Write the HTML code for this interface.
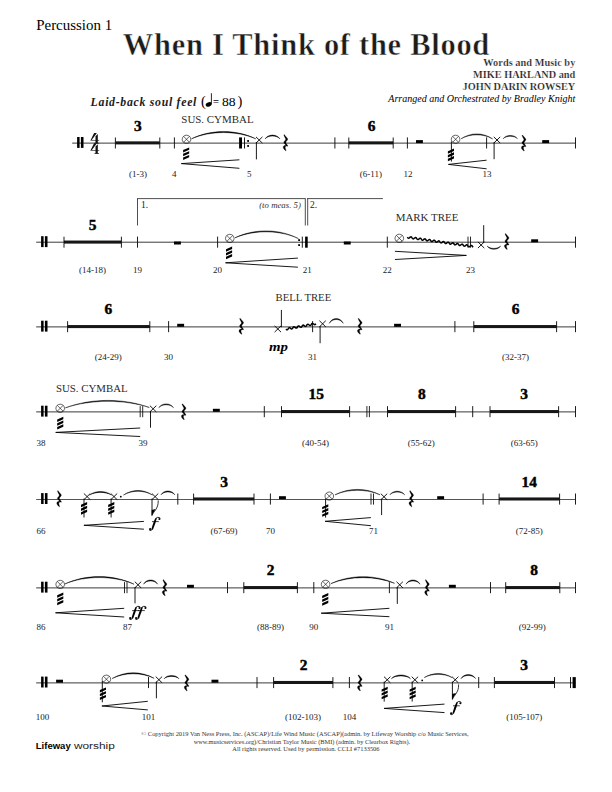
<!DOCTYPE html>
<html><head><meta charset="utf-8"><title>When I Think of the Blood - Percussion 1</title>
<style>
html,body{margin:0;padding:0;background:#fff;}
body{width:612px;height:792px;overflow:hidden;font-family:"Liberation Serif",serif;}
svg{display:block;}
</style></head><body>
<svg width="612" height="792" viewBox="0 0 612 792">
<rect width="612" height="792" fill="#fff"/>
<text x="36.2" y="30.1" font-family="Liberation Serif" font-size="15" font-weight="normal" font-style="normal" text-anchor="start" fill="#000" textLength="76" lengthAdjust="spacingAndGlyphs">Percussion 1</text>
<text x="122.8" y="54.9" font-family="Liberation Serif" font-size="30.5" font-weight="bold" font-style="normal" text-anchor="start" fill="#1c1c1c" textLength="366.5" lengthAdjust="spacing" stroke="#fff" stroke-width="0.5">When I Think of the Blood</text>
<text x="575.3" y="66.2" font-family="Liberation Serif" font-size="10.3" font-weight="bold" font-style="normal" text-anchor="end" fill="#1c1c1c" textLength="92" lengthAdjust="spacing" stroke="#fff" stroke-width="0.2">Words and Music by</text>
<text x="575.3" y="77.9" font-family="Liberation Serif" font-size="10.3" font-weight="bold" font-style="normal" text-anchor="end" fill="#1c1c1c" textLength="102.2" lengthAdjust="spacing" stroke="#fff" stroke-width="0.2">MIKE HARLAND and</text>
<text x="575.3" y="89.7" font-family="Liberation Serif" font-size="10.3" font-weight="bold" font-style="normal" text-anchor="end" fill="#1c1c1c" textLength="112.7" lengthAdjust="spacing" stroke="#fff" stroke-width="0.2">JOHN DARIN ROWSEY</text>
<text x="575.3" y="101.8" font-family="Liberation Serif" font-size="10.4" font-weight="normal" font-style="italic" text-anchor="end" fill="#000" textLength="187" lengthAdjust="spacingAndGlyphs">Arranged and Orchestrated by Bradley Knight</text>
<text x="90.6" y="105.6" font-family="Liberation Serif" font-size="11.8" font-weight="bold" font-style="italic" text-anchor="start" fill="#1c1c1c" textLength="105.8" lengthAdjust="spacing">Laid-back soul feel</text>
<text x="200.9" y="106.3" font-family="Liberation Serif" font-size="14.5" font-weight="normal" font-style="normal" text-anchor="start" fill="#000">(</text>
<ellipse cx="208.7" cy="104.4" rx="3.1" ry="2.15" transform="rotate(-22 208.7 104.4)" fill="#000"/>
<line x1="211.4" y1="103.8" x2="211.4" y2="93.2" stroke="#000" stroke-width="0.85"/>
<text x="212.9" y="106.2" font-family="Liberation Serif" font-size="12" font-weight="normal" font-style="normal" text-anchor="start" fill="#000" textLength="6" lengthAdjust="spacingAndGlyphs">=</text>
<text x="221.9" y="106.4" font-family="Liberation Serif" font-size="13.2" font-weight="normal" font-style="normal" text-anchor="start" fill="#000" textLength="13.6" lengthAdjust="spacingAndGlyphs">88</text>
<text x="237.6" y="106.3" font-family="Liberation Serif" font-size="14.5" font-weight="normal" font-style="normal" text-anchor="start" fill="#000">)</text>
<line x1="72.2" y1="143.12" x2="575.5" y2="143.12" stroke="#3a3a3a" stroke-width="1.0"/>
<rect x="77.1" y="137" width="2.5" height="10.9" fill="#000"/>
<rect x="80.9" y="137" width="2.6" height="10.9" fill="#000"/>
<path d="M94.1,133 L96.9,133 L91.7,140 L90.7,139.9 Z" fill="#111"/>
<rect x="90.5" y="139.95" width="8.7" height="0.65" fill="#222"/>
<path d="M95.5,136.3 L97.8,134 L97.8,143.2 L95.5,143.2 Z" fill="#111"/>
<path d="M94.1,143.5 L99.3,143.5 L98.6,142.7 L94.8,142.7 Z" fill="#111"/>
<path d="M94.1,143.2 L96.9,143.2 L91.7,150.2 L90.7,150.1 Z" fill="#111"/>
<rect x="90.5" y="150.15" width="8.7" height="0.65" fill="#222"/>
<path d="M95.5,146.5 L97.8,144.2 L97.8,153.4 L95.5,153.4 Z" fill="#111"/>
<path d="M94.1,153.7 L99.3,153.7 L98.6,152.9 L94.8,152.9 Z" fill="#111"/>
<rect x="115.4" y="141.35" width="44.4" height="3.05" fill="#161616"/>
<line x1="115.4" y1="137.5" x2="115.4" y2="148.5" stroke="#111" stroke-width="0.95"/>
<line x1="159.8" y1="137.5" x2="159.8" y2="148.5" stroke="#111" stroke-width="0.95"/>
<text x="137.9" y="130.7" font-family="Liberation Serif" font-size="15.4" font-weight="bold" font-style="normal" text-anchor="middle" fill="#000" stroke="#000" stroke-width="0.45">3</text>
<text x="137.9" y="177.2" font-family="Liberation Serif" font-size="9" font-weight="normal" font-style="normal" text-anchor="middle" fill="#222">(1-3)</text>
<line x1="174.4" y1="137.4" x2="174.4" y2="148.5" stroke="#111" stroke-width="0.95"/>
<text x="174.2" y="177.2" font-family="Liberation Serif" font-size="9" font-weight="normal" font-style="normal" text-anchor="middle" fill="#222">4</text>
<text x="181.3" y="122.8" font-family="Liberation Serif" font-size="11.2" font-weight="normal" font-style="normal" text-anchor="start" fill="#2a2a2a" textLength="72.3" lengthAdjust="spacingAndGlyphs">SUS. CYMBAL</text>
<ellipse cx="186.5" cy="139.3" rx="4.3" ry="4.1" fill="none" stroke="#000" stroke-width="0.6"/>
<line x1="183.6" y1="136.4" x2="189.4" y2="142.2" stroke="#000" stroke-width="0.6"/>
<line x1="183.6" y1="142.2" x2="189.4" y2="136.4" stroke="#000" stroke-width="0.6"/>
<path d="M183.1,150.1 L189.2,147.4 L189.2,149.85 L183.1,152.55 Z" fill="#000"/>
<path d="M183.1,153.85 L189.2,151.15 L189.2,153.6 L183.1,156.3 Z" fill="#000"/>
<path d="M183.1,157.6 L189.2,154.9 L189.2,157.35 L183.1,160.05 Z" fill="#000"/>
<path d="M191.5,138.8 C210.76,129.2 236.44,129.2 255.7,138.8 C236.44,130.47 210.76,130.47 191.5,138.8 Z" fill="#000" stroke="#000" stroke-width="0.45" stroke-linejoin="round"/>
<path d="M239.4,159.8 L181.3,163.6 M239.4,168.3 L181.3,163.6" fill="none" stroke="#000" stroke-width="0.9"/>
<rect x="239.1" y="137.4" width="2.9" height="11.1" fill="#000"/>
<line x1="244.5" y1="137.4" x2="244.5" y2="148.5" stroke="#000" stroke-width="0.9"/>
<rect x="247.2" y="140.05" width="1.8" height="1.8" fill="#000"/>
<rect x="247.2" y="145.05" width="1.8" height="1.8" fill="#000"/>
<text x="249.2" y="177.2" font-family="Liberation Serif" font-size="9" font-weight="normal" font-style="normal" text-anchor="middle" fill="#222">5</text>
<line x1="256" y1="136.9" x2="262.4" y2="143.1" stroke="#000" stroke-width="0.9"/>
<line x1="256" y1="143.1" x2="262.4" y2="136.9" stroke="#000" stroke-width="0.9"/>
<line x1="256.4" y1="142" x2="256.4" y2="159.4" stroke="#000" stroke-width="0.9"/>
<path d="M265.1,138.9 C268.06,133.83 276.94,133.83 279.9,138.9 C276.94,135.03 268.06,135.03 265.1,138.9 Z" fill="#000" stroke="#000" stroke-width="0.45" stroke-linejoin="round"/>
<path d="M284.3,134.6 L285.4,135.9 L287.1,137.9 L287.8,139 L287.5,139.9 L286.2,141.5 L285.8,142.3 L286.1,143.2 L287.7,145.6 L287.8,146.2 L286.6,146.1 L285.4,146.5 L285.2,147.6 L285.6,149.2 L286.2,150.5 L285.7,150.7 L284.2,149.4 L283.2,147.8 L283.3,146.4 L284.2,145.6 L285.6,145.3 L286.2,145.4 L284.4,143.6 L283.7,142.6 L284,141.7 L285.5,139.9 L285.7,138.9 L284.6,136.9 L283.8,135.1 Z" fill="#000" stroke="#000" stroke-width="0.25" stroke-linejoin="round"/>
<line x1="334.9" y1="137.4" x2="334.9" y2="148.5" stroke="#111" stroke-width="0.95"/>
<rect x="348.8" y="141.35" width="44.4" height="3.05" fill="#161616"/>
<line x1="348.8" y1="137.5" x2="348.8" y2="148.5" stroke="#111" stroke-width="0.95"/>
<line x1="393.2" y1="137.5" x2="393.2" y2="148.5" stroke="#111" stroke-width="0.95"/>
<text x="371.5" y="130.7" font-family="Liberation Serif" font-size="15.4" font-weight="bold" font-style="normal" text-anchor="middle" fill="#000" stroke="#000" stroke-width="0.45">6</text>
<text x="370.9" y="177.2" font-family="Liberation Serif" font-size="9" font-weight="normal" font-style="normal" text-anchor="middle" fill="#222">(6-11)</text>
<line x1="407.4" y1="137.4" x2="407.4" y2="148.5" stroke="#111" stroke-width="0.95"/>
<text x="407.9" y="177.2" font-family="Liberation Serif" font-size="9" font-weight="normal" font-style="normal" text-anchor="middle" fill="#222">12</text>
<rect x="416" y="140.1" width="6.9" height="3" fill="#000"/>
<ellipse cx="455.6" cy="139.3" rx="4.3" ry="4.1" fill="none" stroke="#000" stroke-width="0.6"/>
<line x1="452.7" y1="136.4" x2="458.5" y2="142.2" stroke="#000" stroke-width="0.6"/>
<line x1="452.7" y1="142.2" x2="458.5" y2="136.4" stroke="#000" stroke-width="0.6"/>
<line x1="451.4" y1="141.5" x2="451.4" y2="161.5" stroke="#000" stroke-width="0.9"/>
<path d="M447.9,151.3 L454,148.6 L454,151.05 L447.9,153.75 Z" fill="#000"/>
<path d="M447.9,155.05 L454,152.35 L454,154.8 L447.9,157.5 Z" fill="#000"/>
<path d="M447.9,158.8 L454,156.1 L454,158.55 L447.9,161.25 Z" fill="#000"/>
<path d="M461.2,138.7 C470.62,132.27 483.18,132.27 492.6,138.9 C483.18,133.53 470.62,133.53 461.2,138.7 Z" fill="#000" stroke="#000" stroke-width="0.45" stroke-linejoin="round"/>
<path d="M486.6,160.2 L448.4,164.4 M486.6,168.8 L448.4,164.4" fill="none" stroke="#000" stroke-width="0.9"/>
<line x1="486.6" y1="137.4" x2="486.6" y2="148.5" stroke="#111" stroke-width="0.95"/>
<text x="487.1" y="177.2" font-family="Liberation Serif" font-size="9" font-weight="normal" font-style="normal" text-anchor="middle" fill="#222">13</text>
<line x1="493.8" y1="136.9" x2="500.2" y2="143.1" stroke="#000" stroke-width="0.9"/>
<line x1="493.8" y1="143.1" x2="500.2" y2="136.9" stroke="#000" stroke-width="0.9"/>
<line x1="494.1" y1="142" x2="494.1" y2="159.2" stroke="#000" stroke-width="0.9"/>
<path d="M503.2,138.7 C506.04,134.3 514.56,134.3 517.4,138.7 C514.56,135.5 506.04,135.5 503.2,138.7 Z" fill="#000" stroke="#000" stroke-width="0.45" stroke-linejoin="round"/>
<path d="M522.5,135 L523.6,136.3 L525.3,138.3 L526,139.4 L525.7,140.3 L524.4,141.9 L524,142.7 L524.3,143.6 L525.9,146 L526,146.6 L524.8,146.5 L523.6,146.9 L523.4,148 L523.8,149.6 L524.4,150.9 L523.9,151.1 L522.4,149.8 L521.4,148.2 L521.5,146.8 L522.4,146 L523.8,145.7 L524.4,145.8 L522.6,144 L521.9,143 L522.2,142.1 L523.7,140.3 L523.9,139.3 L522.8,137.3 L522,135.5 Z" fill="#000" stroke="#000" stroke-width="0.25" stroke-linejoin="round"/>
<rect x="542.2" y="140.1" width="6.9" height="3" fill="#000"/>
<line x1="575.5" y1="137.4" x2="575.5" y2="148.5" stroke="#111" stroke-width="0.95"/>
<line x1="36.2" y1="242.2" x2="575.5" y2="242.2" stroke="#3a3a3a" stroke-width="1.0"/>
<rect x="41.1" y="236.2" width="2.5" height="10.9" fill="#000"/>
<rect x="44.9" y="236.2" width="2.6" height="10.9" fill="#000"/>
<rect x="64" y="240.55" width="57.4" height="3.05" fill="#161616"/>
<line x1="64" y1="236.7" x2="64" y2="247.7" stroke="#111" stroke-width="0.95"/>
<line x1="121.4" y1="236.7" x2="121.4" y2="247.7" stroke="#111" stroke-width="0.95"/>
<text x="92.5" y="229.9" font-family="Liberation Serif" font-size="15.4" font-weight="bold" font-style="normal" text-anchor="middle" fill="#000" stroke="#000" stroke-width="0.45">5</text>
<text x="92.5" y="272.9" font-family="Liberation Serif" font-size="9" font-weight="normal" font-style="normal" text-anchor="middle" fill="#222">(14-18)</text>
<line x1="137.5" y1="236.6" x2="137.5" y2="247.7" stroke="#111" stroke-width="0.95"/>
<text x="137.5" y="272.9" font-family="Liberation Serif" font-size="9" font-weight="normal" font-style="normal" text-anchor="middle" fill="#222">19</text>
<line x1="137.5" y1="198.6" x2="137.5" y2="225.5" stroke="#222" stroke-width="0.8"/>
<line x1="137.1" y1="198.6" x2="305.3" y2="198.6" stroke="#222" stroke-width="0.8"/>
<line x1="305.3" y1="198.2" x2="305.3" y2="225.5" stroke="#222" stroke-width="0.8"/>
<line x1="307.7" y1="198.2" x2="307.7" y2="225.5" stroke="#222" stroke-width="0.8"/>
<line x1="307.3" y1="198.6" x2="382.9" y2="198.6" stroke="#222" stroke-width="0.8"/>
<text x="141" y="208.3" font-family="Liberation Serif" font-size="9.6" font-weight="normal" font-style="normal" text-anchor="start" fill="#222">1.</text>
<text x="310" y="208.3" font-family="Liberation Serif" font-size="9.6" font-weight="normal" font-style="normal" text-anchor="start" fill="#222">2.</text>
<text x="300.9" y="207.6" font-family="Liberation Serif" font-size="8.4" font-weight="normal" font-style="italic" text-anchor="end" fill="#333" textLength="41.7" lengthAdjust="spacingAndGlyphs">(to meas. 5)</text>
<rect x="174" y="241.5" width="6.9" height="3" fill="#000"/>
<line x1="217.6" y1="236.6" x2="217.6" y2="247.7" stroke="#111" stroke-width="0.95"/>
<text x="217.6" y="272.9" font-family="Liberation Serif" font-size="9" font-weight="normal" font-style="normal" text-anchor="middle" fill="#222">20</text>
<ellipse cx="229.8" cy="238.4" rx="4.3" ry="4.1" fill="none" stroke="#000" stroke-width="0.6"/>
<line x1="226.9" y1="235.5" x2="232.7" y2="241.3" stroke="#000" stroke-width="0.6"/>
<line x1="226.9" y1="241.3" x2="232.7" y2="235.5" stroke="#000" stroke-width="0.6"/>
<path d="M226,249.2 L232.1,246.5 L232.1,248.95 L226,251.65 Z" fill="#000"/>
<path d="M226,252.95 L232.1,250.25 L232.1,252.7 L226,255.4 Z" fill="#000"/>
<path d="M226,256.7 L232.1,254 L232.1,256.45 L226,259.15 Z" fill="#000"/>
<path d="M235,237.8 C254.02,228.47 279.38,228.47 298.4,238.6 C279.38,229.73 254.02,229.73 235,237.8 Z" fill="#000" stroke="#000" stroke-width="0.45" stroke-linejoin="round"/>
<path d="M297.9,258.1 L225.5,262.8 M297.9,267.2 L225.5,262.8" fill="none" stroke="#000" stroke-width="0.9"/>
<rect x="298.2" y="239.2" width="1.8" height="1.8" fill="#000"/>
<rect x="298.2" y="244.2" width="1.8" height="1.8" fill="#000"/>
<line x1="302.3" y1="236.6" x2="302.3" y2="247.7" stroke="#000" stroke-width="0.9"/>
<rect x="305.1" y="236.6" width="2.6" height="11.1" fill="#000"/>
<text x="307.3" y="272.9" font-family="Liberation Serif" font-size="9" font-weight="normal" font-style="normal" text-anchor="middle" fill="#222">21</text>
<rect x="343.8" y="241.5" width="6.9" height="3" fill="#000"/>
<line x1="387.3" y1="236.6" x2="387.3" y2="247.7" stroke="#111" stroke-width="0.95"/>
<text x="387.3" y="272.9" font-family="Liberation Serif" font-size="9" font-weight="normal" font-style="normal" text-anchor="middle" fill="#222">22</text>
<text x="395.7" y="221.3" font-family="Liberation Serif" font-size="11.2" font-weight="normal" font-style="normal" text-anchor="start" fill="#2a2a2a" textLength="62.7" lengthAdjust="spacingAndGlyphs">MARK TREE</text>
<ellipse cx="399.3" cy="238.3" rx="4.3" ry="4.1" fill="none" stroke="#000" stroke-width="0.6"/>
<line x1="396.4" y1="235.4" x2="402.2" y2="241.2" stroke="#000" stroke-width="0.6"/>
<line x1="396.4" y1="241.2" x2="402.2" y2="235.4" stroke="#000" stroke-width="0.6"/>
<path d="M407.4,237.2 L407.61,237.51 L407.82,237.79 L408.04,238.02 L408.28,238.16 L408.52,238.21 L408.78,238.17 L409.05,238.05 L409.33,237.86 L409.62,237.62 L409.91,237.38 L410.19,237.15 L410.47,236.98 L410.74,236.87 L411,236.86 L411.24,236.93 L411.47,237.1 L411.69,237.34 L411.9,237.63 L412.11,237.95 L412.32,238.25 L412.53,238.52 L412.76,238.73 L412.99,238.85 L413.24,238.88 L413.5,238.81 L413.78,238.67 L414.06,238.46 L414.35,238.22 L414.64,237.98 L414.92,237.77 L415.2,237.61 L415.46,237.52 L415.71,237.53 L415.95,237.63 L416.18,237.82 L416.4,238.08 L416.61,238.38 L416.81,238.69 L417.03,238.99 L417.24,239.25 L417.47,239.43 L417.71,239.53 L417.96,239.53 L418.23,239.45 L418.5,239.28 L418.79,239.07 L419.08,238.82 L419.36,238.59 L419.65,238.38 L419.92,238.24 L420.18,238.18 L420.43,238.21 L420.67,238.34 L420.89,238.55 L421.1,238.82 L421.31,239.13 L421.52,239.44 L421.73,239.73 L421.95,239.97 L422.18,240.13 L422.43,240.2 L422.68,240.18 L422.95,240.08 L423.23,239.9 L423.52,239.67 L423.8,239.42 L424.09,239.19 L424.37,239 L424.64,238.88 L424.9,238.84 L425.15,238.9 L425.38,239.05 L425.6,239.28 L425.81,239.56 L426.02,239.87 L426.23,240.19 L426.44,240.46 L426.67,240.68 L426.9,240.82 L427.14,240.87 L427.4,240.83 L427.68,240.7 L427.96,240.51 L428.24,240.27 L428.53,240.03 L428.82,239.8 L429.1,239.63 L429.36,239.53 L429.62,239.52 L429.86,239.6 L430.09,239.77 L430.31,240.01 L430.52,240.31 L430.73,240.62 L430.94,240.93 L431.15,241.19 L431.38,241.39 L431.61,241.51 L431.86,241.53 L432.13,241.47 L432.4,241.32 L432.68,241.11 L432.97,240.87 L433.26,240.63 L433.54,240.42 L433.82,240.26 L434.08,240.18 L434.34,240.19 L434.57,240.3 L434.8,240.49 L435.02,240.75 L435.23,241.05 L435.44,241.37 L435.65,241.67 L435.86,241.92 L436.09,242.1 L436.33,242.19 L436.58,242.19 L436.85,242.1 L437.13,241.93 L437.41,241.71 L437.7,241.47 L437.99,241.23 L438.27,241.03 L438.54,240.89 L438.8,240.84 L439.05,240.88 L439.29,241.01 L439.51,241.22 L439.73,241.49 L439.93,241.8 L440.14,242.11 L440.35,242.4 L440.57,242.64 L440.81,242.8 L441.05,242.86 L441.31,242.84 L441.58,242.73 L441.85,242.55 L442.14,242.32 L442.43,242.07 L442.72,241.84 L443,241.65 L443.27,241.54 L443.52,241.5 L443.77,241.57 L444,241.72 L444.22,241.95 L444.43,242.23 L444.64,242.55 L444.85,242.86 L445.06,243.14 L445.29,243.35 L445.52,243.49 L445.77,243.53 L446.03,243.48 L446.3,243.35 L446.58,243.15 L446.87,242.92 L447.16,242.67 L447.44,242.45 L447.72,242.28 L447.99,242.18 L448.24,242.18 L448.48,242.26 L448.71,242.44 L448.93,242.68 L449.14,242.98 L449.35,243.29 L449.56,243.6 L449.77,243.86 L450,244.06 L450.24,244.17 L450.49,244.19 L450.75,244.12 L451.03,243.97 L451.31,243.76 L451.6,243.52 L451.89,243.28 L452.17,243.07 L452.44,242.91 L452.71,242.84 L452.96,242.85 L453.2,242.96 L453.42,243.16 L453.64,243.42 L453.85,243.73 L454.06,244.04 L454.27,244.34 L454.48,244.59 L454.71,244.76 L454.95,244.85 L455.21,244.85 L455.47,244.75 L455.75,244.58 L456.04,244.36 L456.33,244.12 L456.61,243.88 L456.89,243.68 L457.17,243.55 L457.43,243.5 L457.68,243.54 L457.91,243.67 L458.13,243.89 L458.35,244.16 L458.56,244.47 L458.76,244.79 L458.98,245.07 L459.2,245.31 L459.43,245.46 L459.67,245.52 L459.93,245.49 L460.2,245.38 L460.48,245.19 L460.77,244.96 L461.05,244.72 L461.34,244.49 L461.62,244.31 L461.89,244.19 L462.15,244.16 L462.39,244.23 L462.62,244.39 L462.84,244.62 L463.05,244.91 L463.26,245.22 L463.47,245.53 L463.69,245.81 L463.91,246.02 L464.14,246.15 L464.39,246.19 L464.65,246.14 L464.92,246 L465.21,245.8 L465.49,245.56 L465.78,245.32 L466.07,245.1 L466.34,244.93 L466.61,244.84 L466.86,244.84 L467.1,244.93 L467.33,245.1 L467.55,245.35 L467.76,245.65 L467.97,245.97 L468.18,246.27 L468.4,246.53 L468.62,246.73 L468.86,246.83 L469.11,246.85 L469.37,246.77 L469.65,246.62 L469.93,246.41 L470.22,246.17 L470.51,245.92 L470.79,245.72 L471.07,245.57 L471.33,245.49 L471.58,245.52 L471.82,245.63 L472.04,245.83 L472.26,246.09 L472.47,246.4 L472.68,246.71 L472.89,247.01 L473.11,247.26" fill="none" stroke="#000" stroke-width="1.5"/>
<path d="M394.9,251.3 L466.4,255.4 M394.9,259.5 L466.4,255.4" fill="none" stroke="#000" stroke-width="0.9"/>
<line x1="468" y1="236.6" x2="468" y2="247.7" stroke="#111" stroke-width="0.9"/>
<line x1="470.5" y1="236.6" x2="470.5" y2="247.7" stroke="#111" stroke-width="0.9"/>
<text x="470.4" y="272.9" font-family="Liberation Serif" font-size="9" font-weight="normal" font-style="normal" text-anchor="middle" fill="#222">23</text>
<line x1="477.9" y1="241.9" x2="484.3" y2="248.1" stroke="#000" stroke-width="0.9"/>
<line x1="477.9" y1="248.1" x2="484.3" y2="241.9" stroke="#000" stroke-width="0.9"/>
<line x1="483.7" y1="243" x2="483.7" y2="225.2" stroke="#000" stroke-width="0.9"/>
<path d="M487.2,246 C489.88,250.4 497.92,250.4 500.6,246 C497.92,249.2 489.88,249.2 487.2,246 Z" fill="#000" stroke="#000" stroke-width="0.45" stroke-linejoin="round"/>
<path d="M505.5,233.4 L506.6,234.7 L508.3,236.7 L509,237.8 L508.7,238.7 L507.4,240.3 L507,241.1 L507.3,242 L508.9,244.4 L509,245 L507.8,244.9 L506.6,245.3 L506.4,246.4 L506.8,248 L507.4,249.3 L506.9,249.5 L505.4,248.2 L504.4,246.6 L504.5,245.2 L505.4,244.4 L506.8,244.1 L507.4,244.2 L505.6,242.4 L504.9,241.4 L505.2,240.5 L506.7,238.7 L506.9,237.7 L505.8,235.7 L505,233.9 Z" fill="#000" stroke="#000" stroke-width="0.25" stroke-linejoin="round"/>
<rect x="531.2" y="239.3" width="6.9" height="3" fill="#000"/>
<line x1="575.5" y1="236.6" x2="575.5" y2="247.7" stroke="#111" stroke-width="0.95"/>
<line x1="36.2" y1="326.9" x2="575.5" y2="326.9" stroke="#3a3a3a" stroke-width="1.0"/>
<rect x="41.1" y="320.7" width="2.5" height="10.9" fill="#000"/>
<rect x="44.9" y="320.7" width="2.6" height="10.9" fill="#000"/>
<rect x="67.6" y="325.05" width="82.2" height="3.05" fill="#161616"/>
<line x1="67.6" y1="321.2" x2="67.6" y2="332.2" stroke="#111" stroke-width="0.95"/>
<line x1="149.8" y1="321.2" x2="149.8" y2="332.2" stroke="#111" stroke-width="0.95"/>
<text x="108.4" y="314.4" font-family="Liberation Serif" font-size="15.4" font-weight="bold" font-style="normal" text-anchor="middle" fill="#000" stroke="#000" stroke-width="0.45">6</text>
<text x="108.3" y="359.5" font-family="Liberation Serif" font-size="9" font-weight="normal" font-style="normal" text-anchor="middle" fill="#222">(24-29)</text>
<line x1="168.6" y1="321.1" x2="168.6" y2="332.2" stroke="#111" stroke-width="0.95"/>
<text x="168.6" y="359.5" font-family="Liberation Serif" font-size="9" font-weight="normal" font-style="normal" text-anchor="middle" fill="#222">30</text>
<rect x="177.2" y="323.8" width="6.9" height="3" fill="#000"/>
<path d="M240.1,318.2 L241.2,319.5 L242.9,321.5 L243.6,322.6 L243.3,323.5 L242,325.1 L241.6,325.9 L241.9,326.8 L243.5,329.2 L243.6,329.8 L242.4,329.7 L241.2,330.1 L241,331.2 L241.4,332.8 L242,334.1 L241.5,334.3 L240,333 L239,331.4 L239.1,330 L240,329.2 L241.4,328.9 L242,329 L240.2,327.2 L239.5,326.2 L239.8,325.3 L241.3,323.5 L241.5,322.5 L240.4,320.5 L239.6,318.7 Z" fill="#000" stroke="#000" stroke-width="0.25" stroke-linejoin="round"/>
<line x1="312.6" y1="321.1" x2="312.6" y2="332.2" stroke="#111" stroke-width="0.95"/>
<text x="275.6" y="301.4" font-family="Liberation Serif" font-size="11.2" font-weight="normal" font-style="normal" text-anchor="start" fill="#2a2a2a" textLength="55.6" lengthAdjust="spacingAndGlyphs">BELL TREE</text>
<line x1="274.6" y1="325.9" x2="281" y2="332.1" stroke="#000" stroke-width="0.9"/>
<line x1="274.6" y1="332.1" x2="281" y2="325.9" stroke="#000" stroke-width="0.9"/>
<line x1="281.4" y1="327.2" x2="281.4" y2="309.9" stroke="#000" stroke-width="0.9"/>
<path d="M285.9,329.2 L286.2,329.43 L286.49,329.63 L286.77,329.77 L287.04,329.83 L287.29,329.8 L287.52,329.68 L287.74,329.47 L287.95,329.2 L288.14,328.88 L288.34,328.56 L288.54,328.25 L288.74,327.99 L288.97,327.81 L289.2,327.72 L289.46,327.72 L289.73,327.8 L290.02,327.96 L290.31,328.17 L290.61,328.41 L290.91,328.63 L291.2,328.81 L291.48,328.93 L291.74,328.96 L291.98,328.91 L292.21,328.76 L292.42,328.53 L292.63,328.24 L292.82,327.92 L293.02,327.59 L293.22,327.3 L293.43,327.06 L293.66,326.91 L293.9,326.84 L294.16,326.87 L294.44,326.98 L294.73,327.16 L295.02,327.38 L295.32,327.61 L295.62,327.83 L295.9,327.99 L296.18,328.09 L296.43,328.09 L296.67,328 L296.9,327.83 L297.11,327.58 L297.31,327.28 L297.5,326.95 L297.7,326.63 L297.9,326.36 L298.12,326.14 L298.35,326.01 L298.6,325.97 L298.86,326.03 L299.14,326.16 L299.44,326.36 L299.73,326.58 L300.03,326.81 L300.33,327.02 L300.61,327.16 L300.88,327.23 L301.13,327.21 L301.36,327.09 L301.58,326.89 L301.79,326.62 L301.98,326.31 L302.18,325.99 L302.38,325.68 L302.58,325.42 L302.8,325.23 L303.04,325.13 L303.3,325.12 L303.57,325.2 L303.85,325.35 L304.15,325.56 L304.44,325.79 L304.74,326.02 L305.03,326.2 L305.31,326.33 L305.58,326.37 L305.82,326.32 L306.05,326.18 L306.27,325.95 L306.47,325.67 L306.66,325.35 L306.86,325.02 L307.06,324.73 L307.27,324.49 L307.49,324.32 L307.74,324.25 L308,324.27 L308.27,324.37 L308.56,324.54 L308.86,324.76 L309.16,325 L309.45,325.21 L309.74,325.38 L310.01,325.48 L310.27,325.5 L310.51,325.42 L310.74,325.25 L310.95,325.01 L311.15,324.71 L311.34,324.38 L311.54,324.06 L311.74,323.78 L311.96,323.56 L312.19,323.42 L312.43,323.38 L312.7,323.42 L312.98,323.55 L313.27,323.74 L313.57,323.97 L313.87,324.2 L314.16,324.41 L314.44,324.56 L314.71,324.63 L314.97,324.62 L315.2,324.51 L315.42,324.32 L315.63,324.05 L315.83,323.74" fill="none" stroke="#000" stroke-width="1.5"/>
<line x1="319.4" y1="320.7" x2="325.8" y2="326.9" stroke="#000" stroke-width="0.9"/>
<line x1="319.4" y1="326.9" x2="325.8" y2="320.7" stroke="#000" stroke-width="0.9"/>
<line x1="320.1" y1="326" x2="320.1" y2="343.2" stroke="#000" stroke-width="0.9"/>
<path d="M329.3,323.3 C332.08,317.03 340.42,317.03 343.2,323.3 C340.42,318.23 332.08,318.23 329.3,323.3 Z" fill="#000" stroke="#000" stroke-width="0.45" stroke-linejoin="round"/>
<text x="269" y="351.3" font-family="Liberation Serif" font-size="13.5" font-weight="bold" font-style="italic" text-anchor="start" fill="#000" textLength="19" lengthAdjust="spacingAndGlyphs">mp</text>
<text x="312.6" y="359.5" font-family="Liberation Serif" font-size="9" font-weight="normal" font-style="normal" text-anchor="middle" fill="#222">31</text>
<path d="M358.6,318.2 L359.7,319.5 L361.4,321.5 L362.1,322.6 L361.8,323.5 L360.5,325.1 L360.1,325.9 L360.4,326.8 L362,329.2 L362.1,329.8 L360.9,329.7 L359.7,330.1 L359.5,331.2 L359.9,332.8 L360.5,334.1 L360,334.3 L358.5,333 L357.5,331.4 L357.6,330 L358.5,329.2 L359.9,328.9 L360.5,329 L358.7,327.2 L358,326.2 L358.3,325.3 L359.8,323.5 L360,322.5 L358.9,320.5 L358.1,318.7 Z" fill="#000" stroke="#000" stroke-width="0.25" stroke-linejoin="round"/>
<rect x="394.1" y="323.8" width="6.9" height="3" fill="#000"/>
<line x1="454.9" y1="321.1" x2="454.9" y2="332.2" stroke="#111" stroke-width="0.95"/>
<rect x="473.8" y="325.05" width="82.8" height="3.05" fill="#161616"/>
<line x1="473.8" y1="321.2" x2="473.8" y2="332.2" stroke="#111" stroke-width="0.95"/>
<line x1="556.6" y1="321.2" x2="556.6" y2="332.2" stroke="#111" stroke-width="0.95"/>
<text x="515.6" y="314.4" font-family="Liberation Serif" font-size="15.4" font-weight="bold" font-style="normal" text-anchor="middle" fill="#000" stroke="#000" stroke-width="0.45">6</text>
<text x="515.6" y="359.5" font-family="Liberation Serif" font-size="9" font-weight="normal" font-style="normal" text-anchor="middle" fill="#222">(32-37)</text>
<line x1="575.5" y1="321.1" x2="575.5" y2="332.2" stroke="#111" stroke-width="0.95"/>
<line x1="36.2" y1="411.9" x2="575.5" y2="411.9" stroke="#3a3a3a" stroke-width="1.0"/>
<rect x="41.1" y="405.7" width="2.5" height="10.9" fill="#000"/>
<rect x="44.9" y="405.7" width="2.6" height="10.9" fill="#000"/>
<text x="55.9" y="391.8" font-family="Liberation Serif" font-size="11.2" font-weight="normal" font-style="normal" text-anchor="start" fill="#2a2a2a" textLength="71.7" lengthAdjust="spacingAndGlyphs">SUS. CYMBAL</text>
<ellipse cx="60.2" cy="408.3" rx="4.3" ry="4.1" fill="none" stroke="#000" stroke-width="0.6"/>
<line x1="57.3" y1="405.4" x2="63.1" y2="411.2" stroke="#000" stroke-width="0.6"/>
<line x1="57.3" y1="411.2" x2="63.1" y2="405.4" stroke="#000" stroke-width="0.6"/>
<path d="M57.2,419.5 L63.3,416.8 L63.3,419.25 L57.2,421.95 Z" fill="#000"/>
<path d="M57.2,423.25 L63.3,420.55 L63.3,423 L57.2,425.7 Z" fill="#000"/>
<path d="M57.2,427 L63.3,424.3 L63.3,426.75 L57.2,429.45 Z" fill="#000"/>
<path d="M65.3,407.9 C90.5,397.97 124.1,397.97 149.3,407.5 C124.1,399.23 90.5,399.23 65.3,407.9 Z" fill="#000" stroke="#000" stroke-width="0.45" stroke-linejoin="round"/>
<path d="M140.2,428 L55.7,432.4 M140.2,436.5 L55.7,432.4" fill="none" stroke="#000" stroke-width="0.9"/>
<text x="40.9" y="445.5" font-family="Liberation Serif" font-size="9" font-weight="normal" font-style="normal" text-anchor="middle" fill="#222">38</text>
<line x1="140.2" y1="406.1" x2="140.2" y2="417.2" stroke="#111" stroke-width="0.9"/>
<line x1="142.7" y1="406.1" x2="142.7" y2="417.2" stroke="#111" stroke-width="0.9"/>
<text x="142.9" y="445.5" font-family="Liberation Serif" font-size="9" font-weight="normal" font-style="normal" text-anchor="middle" fill="#222">39</text>
<line x1="149.9" y1="405.7" x2="156.3" y2="411.9" stroke="#000" stroke-width="0.9"/>
<line x1="149.9" y1="411.9" x2="156.3" y2="405.7" stroke="#000" stroke-width="0.9"/>
<line x1="150.5" y1="411" x2="150.5" y2="427.7" stroke="#000" stroke-width="0.9"/>
<path d="M158.8,407.7 C161.74,402.63 170.56,402.63 173.5,407.7 C170.56,403.83 161.74,403.83 158.8,407.7 Z" fill="#000" stroke="#000" stroke-width="0.45" stroke-linejoin="round"/>
<path d="M182.5,403.7 L183.6,405 L185.3,407 L186,408.1 L185.7,409 L184.4,410.6 L184,411.4 L184.3,412.3 L185.9,414.7 L186,415.3 L184.8,415.2 L183.6,415.6 L183.4,416.7 L183.8,418.3 L184.4,419.6 L183.9,419.8 L182.4,418.5 L181.4,416.9 L181.5,415.5 L182.4,414.7 L183.8,414.4 L184.4,414.5 L182.6,412.7 L181.9,411.7 L182.2,410.8 L183.7,409 L183.9,408 L182.8,406 L182,404.2 Z" fill="#000" stroke="#000" stroke-width="0.25" stroke-linejoin="round"/>
<rect x="212.9" y="408.8" width="6.9" height="3" fill="#000"/>
<line x1="264.3" y1="406.1" x2="264.3" y2="417.2" stroke="#111" stroke-width="0.95"/>
<rect x="281.5" y="410.05" width="68.1" height="3.05" fill="#161616"/>
<line x1="281.5" y1="406.2" x2="281.5" y2="417.2" stroke="#111" stroke-width="0.95"/>
<line x1="349.6" y1="406.2" x2="349.6" y2="417.2" stroke="#111" stroke-width="0.95"/>
<text x="316.2" y="399.4" font-family="Liberation Serif" font-size="15.4" font-weight="bold" font-style="normal" text-anchor="middle" fill="#000" stroke="#000" stroke-width="0.45">15</text>
<text x="315.5" y="445.5" font-family="Liberation Serif" font-size="9" font-weight="normal" font-style="normal" text-anchor="middle" fill="#222">(40-54)</text>
<line x1="366.9" y1="406.1" x2="366.9" y2="417.2" stroke="#111" stroke-width="0.9"/>
<line x1="369.4" y1="406.1" x2="369.4" y2="417.2" stroke="#111" stroke-width="0.9"/>
<rect x="387.5" y="410.05" width="68.1" height="3.05" fill="#161616"/>
<line x1="387.5" y1="406.2" x2="387.5" y2="417.2" stroke="#111" stroke-width="0.95"/>
<line x1="455.6" y1="406.2" x2="455.6" y2="417.2" stroke="#111" stroke-width="0.95"/>
<text x="421.9" y="399.4" font-family="Liberation Serif" font-size="15.4" font-weight="bold" font-style="normal" text-anchor="middle" fill="#000" stroke="#000" stroke-width="0.45">8</text>
<text x="421.3" y="445.5" font-family="Liberation Serif" font-size="9" font-weight="normal" font-style="normal" text-anchor="middle" fill="#222">(55-62)</text>
<line x1="472.7" y1="406.1" x2="472.7" y2="417.2" stroke="#111" stroke-width="0.95"/>
<rect x="490" y="410.05" width="68.6" height="3.05" fill="#161616"/>
<line x1="490" y1="406.2" x2="490" y2="417.2" stroke="#111" stroke-width="0.95"/>
<line x1="558.6" y1="406.2" x2="558.6" y2="417.2" stroke="#111" stroke-width="0.95"/>
<text x="524.2" y="399.4" font-family="Liberation Serif" font-size="15.4" font-weight="bold" font-style="normal" text-anchor="middle" fill="#000" stroke="#000" stroke-width="0.45">3</text>
<text x="524.2" y="445.5" font-family="Liberation Serif" font-size="9" font-weight="normal" font-style="normal" text-anchor="middle" fill="#222">(63-65)</text>
<line x1="575.5" y1="406.1" x2="575.5" y2="417.2" stroke="#111" stroke-width="0.95"/>
<line x1="36.2" y1="499.5" x2="575.5" y2="499.5" stroke="#555" stroke-width="1.0"/>
<rect x="41.1" y="493.1" width="2.5" height="10.9" fill="#000"/>
<rect x="44.9" y="493.1" width="2.6" height="10.9" fill="#000"/>
<path d="M57.9,490.6 L59,491.9 L60.7,493.9 L61.4,495 L61.1,495.9 L59.8,497.5 L59.4,498.3 L59.7,499.2 L61.3,501.6 L61.4,502.2 L60.2,502.1 L59,502.5 L58.8,503.6 L59.2,505.2 L59.8,506.5 L59.3,506.7 L57.8,505.4 L56.8,503.8 L56.9,502.4 L57.8,501.6 L59.2,501.3 L59.8,501.4 L58,499.6 L57.3,498.6 L57.6,497.7 L59.1,495.9 L59.3,494.9 L58.2,492.9 L57.4,491.1 Z" fill="#000" stroke="#000" stroke-width="0.25" stroke-linejoin="round"/>
<text x="40.9" y="534.3" font-family="Liberation Serif" font-size="9" font-weight="normal" font-style="normal" text-anchor="middle" fill="#222">66</text>
<line x1="83.9" y1="493.5" x2="90.3" y2="499.7" stroke="#000" stroke-width="0.9"/>
<line x1="83.9" y1="499.7" x2="90.3" y2="493.5" stroke="#000" stroke-width="0.9"/>
<line x1="84" y1="498.6" x2="84" y2="517.5" stroke="#000" stroke-width="0.9"/>
<path d="M81,504.8 L87.1,502.1 L87.1,504.55 L81,507.25 Z" fill="#000"/>
<path d="M81,508.55 L87.1,505.85 L87.1,508.3 L81,511 Z" fill="#000"/>
<path d="M81,512.3 L87.1,509.6 L87.1,512.05 L81,514.75 Z" fill="#000"/>
<path d="M89.6,495 C95.05,490.33 105.95,490.33 111.4,495 C105.95,491.53 95.05,491.53 89.6,495 Z" fill="#000" stroke="#000" stroke-width="0.45" stroke-linejoin="round"/>
<line x1="110.8" y1="493.5" x2="117.2" y2="499.7" stroke="#000" stroke-width="0.9"/>
<line x1="110.8" y1="499.7" x2="117.2" y2="493.5" stroke="#000" stroke-width="0.9"/>
<line x1="111.1" y1="498.6" x2="111.1" y2="517.5" stroke="#000" stroke-width="0.9"/>
<path d="M108.2,504.8 L114.3,502.1 L114.3,504.55 L108.2,507.25 Z" fill="#000"/>
<path d="M108.2,508.55 L114.3,505.85 L114.3,508.3 L108.2,511 Z" fill="#000"/>
<path d="M108.2,512.3 L114.3,509.6 L114.3,512.05 L108.2,514.75 Z" fill="#000"/>
<circle cx="120.8" cy="496.7" r="0.9" fill="#000"/>
<path d="M123.5,495 C132.17,489 143.73,489 152.4,495 C143.73,490 132.17,490 123.5,495 Z" fill="#000" stroke="#000" stroke-width="0.45" stroke-linejoin="round"/>
<line x1="151.9" y1="493.5" x2="158.3" y2="499.7" stroke="#000" stroke-width="0.9"/>
<line x1="151.9" y1="499.7" x2="158.3" y2="493.5" stroke="#000" stroke-width="0.9"/>
<line x1="152" y1="498.6" x2="152" y2="515.5" stroke="#000" stroke-width="0.9"/>
<path d="M152,515.5 C153.2,511.5 158.6,509 158.2,500.5" fill="none" stroke="#000" stroke-width="0.8"/>
<path d="M151.7,515.5 L151.7,510 L155.6,509 Z" fill="#000"/>
<path d="M161,494.8 C163.76,489.73 172.04,489.73 174.8,494.8 C172.04,490.93 163.76,490.93 161,494.8 Z" fill="#000" stroke="#000" stroke-width="0.45" stroke-linejoin="round"/>
<path d="M143.9,521.4 L83.9,525.3 M143.9,529.2 L83.9,525.3" fill="none" stroke="#000" stroke-width="0.9"/>
<path d="M156.9,518.1 C156,521.4 154.8,525.5 153,529.4 L151.3,529.6 C152.4,525.5 153.8,521.4 155.2,518.6 Z" fill="#000"/>
<path d="M155.5,518.8 C156.4,517.2 158.6,516.8 160.3,518.2" fill="none" stroke="#000" stroke-width="0.9"/>
<circle cx="159.4" cy="519" r="1.05" fill="#000"/>
<path d="M152.3,529.1 C151.8,530.7 150.1,530.9 149.2,529.9" fill="none" stroke="#000" stroke-width="0.9"/>
<circle cx="150.1" cy="529.1" r="1.05" fill="#000"/>
<line x1="152" y1="521.6" x2="158.8" y2="521.6" stroke="#000" stroke-width="0.75"/>
<line x1="177.8" y1="493.5" x2="177.8" y2="504.6" stroke="#111" stroke-width="0.95"/>
<rect x="193.6" y="497.45" width="60.4" height="3.05" fill="#161616"/>
<line x1="193.6" y1="493.6" x2="193.6" y2="504.6" stroke="#111" stroke-width="0.95"/>
<line x1="254" y1="493.6" x2="254" y2="504.6" stroke="#111" stroke-width="0.95"/>
<text x="224" y="486.8" font-family="Liberation Serif" font-size="15.4" font-weight="bold" font-style="normal" text-anchor="middle" fill="#000" stroke="#000" stroke-width="0.45">3</text>
<text x="224" y="534.3" font-family="Liberation Serif" font-size="9" font-weight="normal" font-style="normal" text-anchor="middle" fill="#222">(67-69)</text>
<line x1="270.4" y1="493.5" x2="270.4" y2="504.6" stroke="#111" stroke-width="0.95"/>
<text x="270.4" y="534.3" font-family="Liberation Serif" font-size="9" font-weight="normal" font-style="normal" text-anchor="middle" fill="#222">70</text>
<rect x="279" y="496.2" width="6.9" height="3" fill="#000"/>
<ellipse cx="329.3" cy="496.1" rx="4.3" ry="4.1" fill="none" stroke="#000" stroke-width="0.6"/>
<line x1="326.4" y1="493.2" x2="332.2" y2="499" stroke="#000" stroke-width="0.6"/>
<line x1="326.4" y1="499" x2="332.2" y2="493.2" stroke="#000" stroke-width="0.6"/>
<line x1="325.6" y1="498.5" x2="325.6" y2="517.6" stroke="#000" stroke-width="0.9"/>
<path d="M322.2,506.9 L328.3,504.2 L328.3,506.65 L322.2,509.35 Z" fill="#000"/>
<path d="M322.2,510.65 L328.3,507.95 L328.3,510.4 L322.2,513.1 Z" fill="#000"/>
<path d="M322.2,514.4 L328.3,511.7 L328.3,514.15 L322.2,516.85 Z" fill="#000"/>
<path d="M335,494.8 C348.5,487.6 366.5,487.6 380,494.8 C366.5,488.87 348.5,488.87 335,494.8 Z" fill="#000" stroke="#000" stroke-width="0.45" stroke-linejoin="round"/>
<path d="M370.9,517.6 L325.1,521.3 M370.9,525.7 L325.1,521.3" fill="none" stroke="#000" stroke-width="0.9"/>
<line x1="371" y1="493.5" x2="371" y2="504.6" stroke="#111" stroke-width="0.9"/>
<line x1="373.5" y1="493.5" x2="373.5" y2="504.6" stroke="#111" stroke-width="0.9"/>
<text x="373.4" y="534.3" font-family="Liberation Serif" font-size="9" font-weight="normal" font-style="normal" text-anchor="middle" fill="#222">71</text>
<line x1="380.8" y1="493.7" x2="387.2" y2="499.9" stroke="#000" stroke-width="0.9"/>
<line x1="380.8" y1="499.9" x2="387.2" y2="493.7" stroke="#000" stroke-width="0.9"/>
<line x1="381.6" y1="498.8" x2="381.6" y2="515.1" stroke="#000" stroke-width="0.9"/>
<path d="M389.9,494.8 C392.84,490 401.66,490 404.6,494.8 C401.66,491.2 392.84,491.2 389.9,494.8 Z" fill="#000" stroke="#000" stroke-width="0.45" stroke-linejoin="round"/>
<path d="M410.1,490.6 L411.2,491.9 L412.9,493.9 L413.6,495 L413.3,495.9 L412,497.5 L411.6,498.3 L411.9,499.2 L413.5,501.6 L413.6,502.2 L412.4,502.1 L411.2,502.5 L411,503.6 L411.4,505.2 L412,506.5 L411.5,506.7 L410,505.4 L409,503.8 L409.1,502.4 L410,501.6 L411.4,501.3 L412,501.4 L410.2,499.6 L409.5,498.6 L409.8,497.7 L411.3,495.9 L411.5,494.9 L410.4,492.9 L409.6,491.1 Z" fill="#000" stroke="#000" stroke-width="0.25" stroke-linejoin="round"/>
<rect x="437.2" y="496.2" width="6.9" height="3" fill="#000"/>
<line x1="483.1" y1="493.5" x2="483.1" y2="504.6" stroke="#111" stroke-width="0.95"/>
<rect x="499.1" y="497.45" width="60.5" height="3.05" fill="#161616"/>
<line x1="499.1" y1="493.6" x2="499.1" y2="504.6" stroke="#111" stroke-width="0.95"/>
<line x1="559.6" y1="493.6" x2="559.6" y2="504.6" stroke="#111" stroke-width="0.95"/>
<text x="529.2" y="486.8" font-family="Liberation Serif" font-size="15.4" font-weight="bold" font-style="normal" text-anchor="middle" fill="#000" stroke="#000" stroke-width="0.45">14</text>
<text x="529.2" y="534.3" font-family="Liberation Serif" font-size="9" font-weight="normal" font-style="normal" text-anchor="middle" fill="#222">(72-85)</text>
<line x1="575.5" y1="493.5" x2="575.5" y2="504.6" stroke="#111" stroke-width="0.95"/>
<line x1="36.2" y1="587.9" x2="575.5" y2="587.9" stroke="#3a3a3a" stroke-width="1.0"/>
<rect x="41.1" y="581.7" width="2.5" height="10.9" fill="#000"/>
<rect x="44.9" y="581.7" width="2.6" height="10.9" fill="#000"/>
<ellipse cx="60.2" cy="584.4" rx="4.3" ry="4.1" fill="none" stroke="#000" stroke-width="0.6"/>
<line x1="57.3" y1="581.5" x2="63.1" y2="587.3" stroke="#000" stroke-width="0.6"/>
<line x1="57.3" y1="587.3" x2="63.1" y2="581.5" stroke="#000" stroke-width="0.6"/>
<path d="M57.2,595.3 L63.3,592.6 L63.3,595.05 L57.2,597.75 Z" fill="#000"/>
<path d="M57.2,599.05 L63.3,596.35 L63.3,598.8 L57.2,601.5 Z" fill="#000"/>
<path d="M57.2,602.8 L63.3,600.1 L63.3,602.55 L57.2,605.25 Z" fill="#000"/>
<path d="M64.8,584 C85.56,574.1 113.24,574.1 134,584.2 C113.24,575.37 85.56,575.37 64.8,584 Z" fill="#000" stroke="#000" stroke-width="0.45" stroke-linejoin="round"/>
<path d="M124.2,608.3 L55.5,612.8 M124.2,617 L55.5,612.8" fill="none" stroke="#000" stroke-width="0.9"/>
<text x="40.9" y="630.2" font-family="Liberation Serif" font-size="9" font-weight="normal" font-style="normal" text-anchor="middle" fill="#222">86</text>
<line x1="124.5" y1="582.1" x2="124.5" y2="593.2" stroke="#111" stroke-width="0.9"/>
<line x1="127" y1="582.1" x2="127" y2="593.2" stroke="#111" stroke-width="0.9"/>
<text x="127.5" y="630.2" font-family="Liberation Serif" font-size="9" font-weight="normal" font-style="normal" text-anchor="middle" fill="#222">87</text>
<line x1="134.8" y1="581.7" x2="141.2" y2="587.9" stroke="#000" stroke-width="0.9"/>
<line x1="134.8" y1="587.9" x2="141.2" y2="581.7" stroke="#000" stroke-width="0.9"/>
<line x1="135" y1="587" x2="135" y2="603.4" stroke="#000" stroke-width="0.9"/>
<path d="M137,607.1 C136.1,610.4 134.9,614.5 133.1,618.4 L131.4,618.6 C132.5,614.5 133.9,610.4 135.3,607.6 Z" fill="#000"/>
<path d="M135.6,607.8 C136.5,606.2 138.7,605.8 140.4,607.2" fill="none" stroke="#000" stroke-width="0.9"/>
<circle cx="139.5" cy="608" r="1.05" fill="#000"/>
<path d="M132.4,618.1 C131.9,619.7 130.2,619.9 129.3,618.9" fill="none" stroke="#000" stroke-width="0.9"/>
<circle cx="130.2" cy="618.1" r="1.05" fill="#000"/>
<line x1="132.1" y1="610.6" x2="138.9" y2="610.6" stroke="#000" stroke-width="0.75"/>
<path d="M142.9,607.1 C142,610.4 140.8,614.5 139,618.4 L137.3,618.6 C138.4,614.5 139.8,610.4 141.2,607.6 Z" fill="#000"/>
<path d="M141.5,607.8 C142.4,606.2 144.6,605.8 146.3,607.2" fill="none" stroke="#000" stroke-width="0.9"/>
<circle cx="145.4" cy="608" r="1.05" fill="#000"/>
<path d="M138.3,618.1 C137.8,619.7 136.1,619.9 135.2,618.9" fill="none" stroke="#000" stroke-width="0.9"/>
<circle cx="136.1" cy="618.1" r="1.05" fill="#000"/>
<line x1="138" y1="610.6" x2="144.8" y2="610.6" stroke="#000" stroke-width="0.75"/>
<path d="M143.6,584.2 C146.4,578.6 154.8,578.6 157.6,584.2 C154.8,579.8 146.4,579.8 143.6,584.2 Z" fill="#000" stroke="#000" stroke-width="0.45" stroke-linejoin="round"/>
<path d="M163.4,579.6 L164.5,580.9 L166.2,582.9 L166.9,584 L166.6,584.9 L165.3,586.5 L164.9,587.3 L165.2,588.2 L166.8,590.6 L166.9,591.2 L165.7,591.1 L164.5,591.5 L164.3,592.6 L164.7,594.2 L165.3,595.5 L164.8,595.7 L163.3,594.4 L162.3,592.8 L162.4,591.4 L163.3,590.6 L164.7,590.3 L165.3,590.4 L163.5,588.6 L162.8,587.6 L163.1,586.7 L164.6,584.9 L164.8,583.9 L163.7,581.9 L162.9,580.1 Z" fill="#000" stroke="#000" stroke-width="0.25" stroke-linejoin="round"/>
<rect x="187" y="584.8" width="6.9" height="3" fill="#000"/>
<line x1="227.5" y1="582.1" x2="227.5" y2="593.2" stroke="#111" stroke-width="0.95"/>
<rect x="243.8" y="586.05" width="53.6" height="3.05" fill="#161616"/>
<line x1="243.8" y1="582.2" x2="243.8" y2="593.2" stroke="#111" stroke-width="0.95"/>
<line x1="297.4" y1="582.2" x2="297.4" y2="593.2" stroke="#111" stroke-width="0.95"/>
<text x="270.6" y="575.4" font-family="Liberation Serif" font-size="15.4" font-weight="bold" font-style="normal" text-anchor="middle" fill="#000" stroke="#000" stroke-width="0.45">2</text>
<text x="270.5" y="630.2" font-family="Liberation Serif" font-size="9" font-weight="normal" font-style="normal" text-anchor="middle" fill="#222">(88-89)</text>
<line x1="313.8" y1="582.1" x2="313.8" y2="593.2" stroke="#111" stroke-width="0.95"/>
<text x="313.8" y="630.2" font-family="Liberation Serif" font-size="9" font-weight="normal" font-style="normal" text-anchor="middle" fill="#222">90</text>
<ellipse cx="325.6" cy="584.3" rx="4.3" ry="4.1" fill="none" stroke="#000" stroke-width="0.6"/>
<line x1="322.7" y1="581.4" x2="328.5" y2="587.2" stroke="#000" stroke-width="0.6"/>
<line x1="322.7" y1="587.2" x2="328.5" y2="581.4" stroke="#000" stroke-width="0.6"/>
<path d="M322.2,595.7 L328.3,593 L328.3,595.45 L322.2,598.15 Z" fill="#000"/>
<path d="M322.2,599.45 L328.3,596.75 L328.3,599.2 L322.2,601.9 Z" fill="#000"/>
<path d="M322.2,603.2 L328.3,600.5 L328.3,602.95 L322.2,605.65 Z" fill="#000"/>
<path d="M331,583.6 C350.05,574.45 375.45,574.45 394.5,583.3 C375.45,575.72 350.05,575.72 331,583.6 Z" fill="#000" stroke="#000" stroke-width="0.45" stroke-linejoin="round"/>
<path d="M389.4,608.3 L321.2,613.2 M389.4,616.7 L321.2,613.2" fill="none" stroke="#000" stroke-width="0.9"/>
<line x1="389.4" y1="582.1" x2="389.4" y2="593.2" stroke="#111" stroke-width="0.95"/>
<text x="389.4" y="630.2" font-family="Liberation Serif" font-size="9" font-weight="normal" font-style="normal" text-anchor="middle" fill="#222">91</text>
<line x1="396.5" y1="581.7" x2="402.9" y2="587.9" stroke="#000" stroke-width="0.9"/>
<line x1="396.5" y1="587.9" x2="402.9" y2="581.7" stroke="#000" stroke-width="0.9"/>
<line x1="397.3" y1="587" x2="397.3" y2="603.9" stroke="#000" stroke-width="0.9"/>
<path d="M406,584.2 C408.8,578.6 417.2,578.6 420,584.2 C417.2,579.8 408.8,579.8 406,584.2 Z" fill="#000" stroke="#000" stroke-width="0.45" stroke-linejoin="round"/>
<path d="M425.8,579.6 L426.9,580.9 L428.6,582.9 L429.3,584 L429,584.9 L427.7,586.5 L427.3,587.3 L427.6,588.2 L429.2,590.6 L429.3,591.2 L428.1,591.1 L426.9,591.5 L426.7,592.6 L427.1,594.2 L427.7,595.5 L427.2,595.7 L425.7,594.4 L424.7,592.8 L424.8,591.4 L425.7,590.6 L427.1,590.3 L427.7,590.4 L425.9,588.6 L425.2,587.6 L425.5,586.7 L427,584.9 L427.2,583.9 L426.1,581.9 L425.3,580.1 Z" fill="#000" stroke="#000" stroke-width="0.25" stroke-linejoin="round"/>
<rect x="448.9" y="584.8" width="6.9" height="3" fill="#000"/>
<line x1="490.5" y1="582.1" x2="490.5" y2="593.2" stroke="#111" stroke-width="0.95"/>
<rect x="505.7" y="586.05" width="54.1" height="3.05" fill="#161616"/>
<line x1="505.7" y1="582.2" x2="505.7" y2="593.2" stroke="#111" stroke-width="0.95"/>
<line x1="559.8" y1="582.2" x2="559.8" y2="593.2" stroke="#111" stroke-width="0.95"/>
<text x="534" y="575.4" font-family="Liberation Serif" font-size="15.4" font-weight="bold" font-style="normal" text-anchor="middle" fill="#000" stroke="#000" stroke-width="0.45">8</text>
<text x="532.3" y="630.2" font-family="Liberation Serif" font-size="9" font-weight="normal" font-style="normal" text-anchor="middle" fill="#222">(92-99)</text>
<line x1="575.5" y1="582.1" x2="575.5" y2="593.2" stroke="#111" stroke-width="0.95"/>
<line x1="36.2" y1="682.9" x2="575.5" y2="682.9" stroke="#3a3a3a" stroke-width="1.0"/>
<rect x="41.1" y="676.6" width="2.5" height="10.9" fill="#000"/>
<rect x="44.9" y="676.6" width="2.6" height="10.9" fill="#000"/>
<rect x="56.1" y="679.7" width="6.9" height="3" fill="#000"/>
<text x="42.6" y="720.2" font-family="Liberation Serif" font-size="9" font-weight="normal" font-style="normal" text-anchor="middle" fill="#222">100</text>
<ellipse cx="106.4" cy="679.2" rx="4.3" ry="4.1" fill="none" stroke="#000" stroke-width="0.6"/>
<line x1="103.5" y1="676.3" x2="109.3" y2="682.1" stroke="#000" stroke-width="0.6"/>
<line x1="103.5" y1="682.1" x2="109.3" y2="676.3" stroke="#000" stroke-width="0.6"/>
<line x1="102.3" y1="681" x2="102.3" y2="702.3" stroke="#000" stroke-width="0.9"/>
<path d="M99.9,690.1 L106,687.4 L106,689.85 L99.9,692.55 Z" fill="#000"/>
<path d="M99.9,693.85 L106,691.15 L106,693.6 L99.9,696.3 Z" fill="#000"/>
<path d="M99.9,697.6 L106,694.9 L106,697.35 L99.9,700.05 Z" fill="#000"/>
<path d="M112.2,678.5 C124.77,670.93 141.53,670.93 154.1,678.3 C141.53,672.2 124.77,672.2 112.2,678.5 Z" fill="#000" stroke="#000" stroke-width="0.45" stroke-linejoin="round"/>
<path d="M147.8,701.3 L101.9,706 M147.8,709.9 L101.9,706" fill="none" stroke="#000" stroke-width="0.9"/>
<line x1="148.5" y1="677" x2="148.5" y2="688.1" stroke="#111" stroke-width="0.95"/>
<text x="148.5" y="720.2" font-family="Liberation Serif" font-size="9" font-weight="normal" font-style="normal" text-anchor="middle" fill="#222">101</text>
<line x1="155.7" y1="676.6" x2="162.1" y2="682.8" stroke="#000" stroke-width="0.9"/>
<line x1="155.7" y1="682.8" x2="162.1" y2="676.6" stroke="#000" stroke-width="0.9"/>
<line x1="156.4" y1="681.6" x2="156.4" y2="698.3" stroke="#000" stroke-width="0.9"/>
<path d="M164.2,678.7 C167.14,674.43 175.96,674.43 178.9,678.7 C175.96,675.63 167.14,675.63 164.2,678.7 Z" fill="#000" stroke="#000" stroke-width="0.45" stroke-linejoin="round"/>
<path d="M185.4,674.8 L186.5,676.1 L188.2,678.1 L188.9,679.2 L188.6,680.1 L187.3,681.7 L186.9,682.5 L187.2,683.4 L188.8,685.8 L188.9,686.4 L187.7,686.3 L186.5,686.7 L186.3,687.8 L186.7,689.4 L187.3,690.7 L186.8,690.9 L185.3,689.6 L184.3,688 L184.4,686.6 L185.3,685.8 L186.7,685.5 L187.3,685.6 L185.5,683.8 L184.8,682.8 L185.1,681.9 L186.6,680.1 L186.8,679.1 L185.7,677.1 L184.9,675.3 Z" fill="#000" stroke="#000" stroke-width="0.25" stroke-linejoin="round"/>
<rect x="211.5" y="679.7" width="6.9" height="3" fill="#000"/>
<line x1="257" y1="677" x2="257" y2="688.1" stroke="#111" stroke-width="0.95"/>
<rect x="273.6" y="680.95" width="59.3" height="3.05" fill="#161616"/>
<line x1="273.6" y1="677.1" x2="273.6" y2="688.1" stroke="#111" stroke-width="0.95"/>
<line x1="332.9" y1="677.1" x2="332.9" y2="688.1" stroke="#111" stroke-width="0.95"/>
<text x="303.5" y="670.3" font-family="Liberation Serif" font-size="15.4" font-weight="bold" font-style="normal" text-anchor="middle" fill="#000" stroke="#000" stroke-width="0.45">2</text>
<text x="302.9" y="720.2" font-family="Liberation Serif" font-size="9" font-weight="normal" font-style="normal" text-anchor="middle" fill="#222">(102-103)</text>
<line x1="349.4" y1="677" x2="349.4" y2="688.1" stroke="#111" stroke-width="0.95"/>
<text x="349.6" y="720.2" font-family="Liberation Serif" font-size="9" font-weight="normal" font-style="normal" text-anchor="middle" fill="#222">104</text>
<path d="M358.6,674.8 L359.7,676.1 L361.4,678.1 L362.1,679.2 L361.8,680.1 L360.5,681.7 L360.1,682.5 L360.4,683.4 L362,685.8 L362.1,686.4 L360.9,686.3 L359.7,686.7 L359.5,687.8 L359.9,689.4 L360.5,690.7 L360,690.9 L358.5,689.6 L357.5,688 L357.6,686.6 L358.5,685.8 L359.9,685.5 L360.5,685.6 L358.7,683.8 L358,682.8 L358.3,681.9 L359.8,680.1 L360,679.1 L358.9,677.1 L358.1,675.3 Z" fill="#000" stroke="#000" stroke-width="0.25" stroke-linejoin="round"/>
<line x1="384" y1="676.7" x2="390.4" y2="682.9" stroke="#000" stroke-width="0.9"/>
<line x1="384" y1="682.9" x2="390.4" y2="676.7" stroke="#000" stroke-width="0.9"/>
<line x1="384.2" y1="681.6" x2="384.2" y2="701.6" stroke="#000" stroke-width="0.9"/>
<path d="M381.6,689.4 L387.7,686.7 L387.7,689.15 L381.6,691.85 Z" fill="#000"/>
<path d="M381.6,693.15 L387.7,690.45 L387.7,692.9 L381.6,695.6 Z" fill="#000"/>
<path d="M381.6,696.9 L387.7,694.2 L387.7,696.65 L381.6,699.35 Z" fill="#000"/>
<path d="M391.4,678.7 C395.22,673.77 406.68,673.77 410.5,678.7 C406.68,674.97 395.22,674.97 391.4,678.7 Z" fill="#000" stroke="#000" stroke-width="0.45" stroke-linejoin="round"/>
<line x1="411.7" y1="676.7" x2="418.1" y2="682.9" stroke="#000" stroke-width="0.9"/>
<line x1="411.7" y1="682.9" x2="418.1" y2="676.7" stroke="#000" stroke-width="0.9"/>
<line x1="412.2" y1="681.6" x2="412.2" y2="701.6" stroke="#000" stroke-width="0.9"/>
<path d="M409.6,689.4 L415.7,686.7 L415.7,689.15 L409.6,691.85 Z" fill="#000"/>
<path d="M409.6,693.15 L415.7,690.45 L415.7,692.9 L409.6,695.6 Z" fill="#000"/>
<path d="M409.6,696.9 L415.7,694.2 L415.7,696.65 L409.6,699.35 Z" fill="#000"/>
<circle cx="422.2" cy="680.4" r="0.9" fill="#000"/>
<path d="M424.3,677.5 C432.61,672.3 443.69,672.3 452,677.5 C443.69,673.3 432.61,673.3 424.3,677.5 Z" fill="#000" stroke="#000" stroke-width="0.45" stroke-linejoin="round"/>
<line x1="452" y1="676.7" x2="458.4" y2="682.9" stroke="#000" stroke-width="0.9"/>
<line x1="452" y1="682.9" x2="458.4" y2="676.7" stroke="#000" stroke-width="0.9"/>
<line x1="452.4" y1="681.6" x2="452.4" y2="699.4" stroke="#000" stroke-width="0.9"/>
<path d="M452.4,699.4 C453.6,695.4 459,692.9 458.6,684.4" fill="none" stroke="#000" stroke-width="0.8"/>
<path d="M452.1,699.4 L452.1,693.9 L456,692.9 Z" fill="#000"/>
<path d="M461,678.7 C463.9,673.27 472.6,673.27 475.5,678.5 C472.6,674.47 463.9,674.47 461,678.7 Z" fill="#000" stroke="#000" stroke-width="0.45" stroke-linejoin="round"/>
<path d="M444.5,704.1 L384,708.4 M444.5,712.6 L384,708.4" fill="none" stroke="#000" stroke-width="0.9"/>
<path d="M457.9,702.3 C457,705.6 455.8,709.7 454,713.6 L452.3,713.8 C453.4,709.7 454.8,705.6 456.2,702.8 Z" fill="#000"/>
<path d="M456.5,703 C457.4,701.4 459.6,701 461.3,702.4" fill="none" stroke="#000" stroke-width="0.9"/>
<circle cx="460.4" cy="703.2" r="1.05" fill="#000"/>
<path d="M453.3,713.3 C452.8,714.9 451.1,715.1 450.2,714.1" fill="none" stroke="#000" stroke-width="0.9"/>
<circle cx="451.1" cy="713.3" r="1.05" fill="#000"/>
<line x1="453" y1="705.8" x2="459.8" y2="705.8" stroke="#000" stroke-width="0.75"/>
<line x1="478.7" y1="677" x2="478.7" y2="688.1" stroke="#111" stroke-width="0.95"/>
<rect x="494.4" y="680.95" width="60.1" height="3.05" fill="#161616"/>
<line x1="494.4" y1="677.1" x2="494.4" y2="688.1" stroke="#111" stroke-width="0.95"/>
<line x1="554.5" y1="677.1" x2="554.5" y2="688.1" stroke="#111" stroke-width="0.95"/>
<text x="524.2" y="670.3" font-family="Liberation Serif" font-size="15.4" font-weight="bold" font-style="normal" text-anchor="middle" fill="#000" stroke="#000" stroke-width="0.45">3</text>
<text x="524.2" y="720.2" font-family="Liberation Serif" font-size="9" font-weight="normal" font-style="normal" text-anchor="middle" fill="#222">(105-107)</text>
<line x1="570.5" y1="677.1" x2="570.5" y2="688.1" stroke="#000" stroke-width="0.9"/>
<rect x="572.6" y="677.1" width="3.2" height="11" fill="#000"/>
<text x="35.8" y="748.7" font-family="Liberation Sans" font-size="9.4" font-weight="bold" font-style="normal" text-anchor="start" fill="#000" textLength="34.9" lengthAdjust="spacingAndGlyphs">Lifeway</text>
<text x="73.9" y="748.7" font-family="Liberation Sans" font-size="9.6" font-weight="normal" font-style="normal" text-anchor="start" fill="#222" textLength="40.9" lengthAdjust="spacingAndGlyphs">worship</text>
<text x="305" y="735.8" font-family="Liberation Serif" font-size="6.2" font-weight="normal" font-style="normal" text-anchor="middle" fill="#333" textLength="327.4" lengthAdjust="spacingAndGlyphs">© Copyright 2019 Van Ness Press, Inc. (ASCAP)/Life Wind Music (ASCAP)(admin. by Lifeway Worship c/o Music Services,</text>
<text x="301.9" y="743.6" font-family="Liberation Serif" font-size="6.2" font-weight="normal" font-style="normal" text-anchor="middle" fill="#333" textLength="216.5" lengthAdjust="spacingAndGlyphs">www.musicservices.org)/Christian Taylor Music (BMI) (admin. by Clearbox Rights).</text>
<text x="305.9" y="750.9" font-family="Liberation Serif" font-size="6.2" font-weight="normal" font-style="normal" text-anchor="middle" fill="#333" textLength="147.3" lengthAdjust="spacingAndGlyphs">All rights reserved. Used by permission. CCLI #7133506</text>
</svg>
</body></html>
